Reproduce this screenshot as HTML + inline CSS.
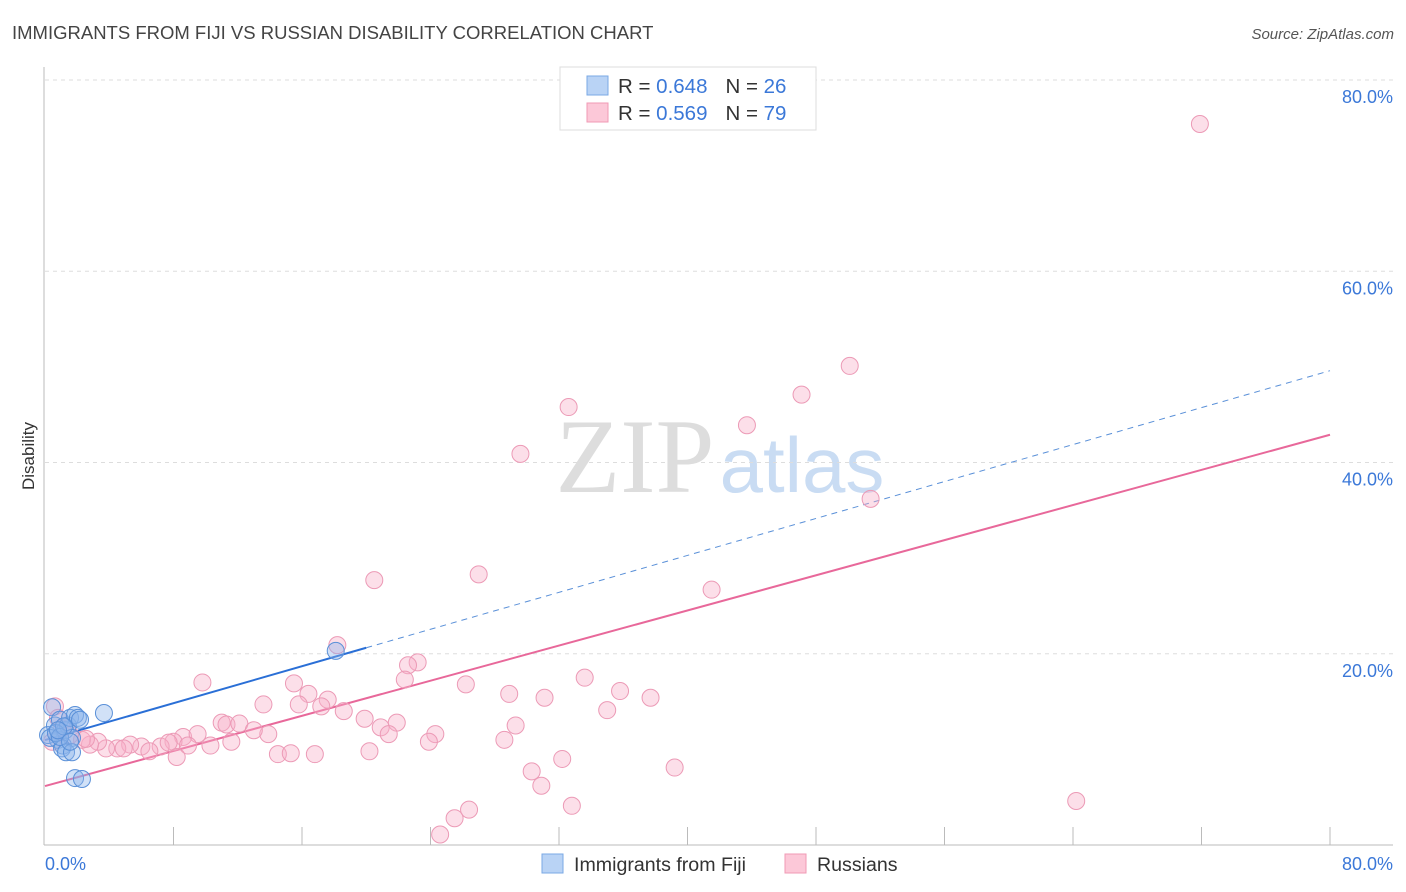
<!DOCTYPE html>
<html><head><meta charset="utf-8"><style>
body{margin:0;background:#fff;font-family:"Liberation Sans",sans-serif;}
svg{display:block}
</style></head><body>
<svg id="chart" width="1406" height="892" xmlns="http://www.w3.org/2000/svg">
<text x="12" y="39" font-size="18.5" fill="#444">IMMIGRANTS FROM FIJI VS RUSSIAN DISABILITY CORRELATION CHART</text>
<text x="1394" y="39" font-size="15" fill="#555" font-style="italic" text-anchor="end">Source: ZipAtlas.com</text>
<text x="34" y="456" font-size="17" fill="#333" text-anchor="middle" transform="rotate(-90 34 456)">Disability</text>
<g>
<text x="635" y="492" font-size="106" font-family="Liberation Serif,serif" fill="#ddd" text-anchor="middle">ZIP</text>
<text x="802" y="492" font-size="78" fill="#c9dcf3" text-anchor="middle">atlas</text>
</g>
<g id="grid"></g>
<g id="axes"></g>
<g id="lines"></g>
<g id="pts"></g>
<g>
<rect x="560" y="67" width="256" height="63" fill="#fff" stroke="#ddd"/>
<rect x="587" y="76" width="21" height="19" fill="#b9d3f5" stroke="#7aa8e5"/>
<rect x="587" y="103" width="21" height="19" fill="#fcc8d8" stroke="#f09ab5"/>
<text x="618" y="93" font-size="20.5" fill="#333">R = <tspan fill="#3b78d8">0.648</tspan><tspan dx="18">N = </tspan><tspan fill="#3b78d8">26</tspan></text>
<text x="618" y="120" font-size="20.5" fill="#333">R = <tspan fill="#3b78d8">0.569</tspan><tspan dx="18">N = </tspan><tspan fill="#3b78d8">79</tspan></text>
</g>
<g>
<rect x="542" y="854" width="21" height="19" fill="#b9d3f5" stroke="#7aa8e5"/>
<text x="574" y="871" font-size="19.6" fill="#333">Immigrants from Fiji</text>
<rect x="785" y="854" width="21" height="19" fill="#fcc8d8" stroke="#f09ab5"/>
<text x="817" y="871" font-size="19.6" fill="#333">Russians</text>
</g>
</svg>
<script>
const yTicks=[20,40,60,80];
const xTickLabels=["0.0%","80.0%"];
const fijiX=[0.19,0.44,0.62,0.81,0.93,1.12,1.25,1.43,1.56,1.68,1.87,2.05,2.18,1.06,1.31,1.68,3.67,1.87,2.30,18.1,0.31,0.68,0.93,1.18,0.81,1.56];
const fijiY=[11.5,14.4,12.5,11.0,13.1,10.4,12.0,12.5,13.3,11.2,13.6,13.3,13.1,10.1,9.7,9.7,13.8,7.0,6.9,20.3,11.2,11.7,11.3,12.4,12.0,10.8];
const rusX=[71.9,50.1,47.1,32.6,43.7,29.6,51.4,20.5,27.0,41.5,18.2,23.2,22.6,22.4,9.8,15.5,26.2,28.9,31.1,33.6,35.8,37.7,16.4,17.6,13.6,15.8,17.2,18.6,35.0,11.0,11.3,12.1,19.9,21.9,20.9,21.4,24.3,29.3,13.9,13.0,8.6,9.5,8.0,11.6,10.3,23.9,28.6,8.9,7.2,7.7,6.0,5.3,4.5,3.8,3.3,2.8,2.3,6.5,4.9,14.5,15.3,16.8,8.2,20.2,32.2,30.3,39.2,30.9,32.8,26.4,25.5,24.6,64.2,0.62,0.81,1.06,0.44,1.56,2.55];
const rusY=[75.4,50.1,47.1,45.8,43.9,40.9,36.2,27.7,28.3,26.7,20.9,19.1,18.8,17.3,17.0,16.9,16.8,15.8,15.4,17.5,16.1,15.4,15.8,15.2,14.7,14.7,14.5,14.0,14.1,12.8,12.6,12.7,13.2,12.8,12.3,11.6,11.6,12.5,11.6,12.0,11.3,11.6,10.8,10.8,10.4,10.8,11.0,10.4,10.3,10.7,10.3,10.5,10.1,10.1,10.8,10.5,11.0,9.8,10.1,9.5,9.6,9.5,9.2,9.8,9.0,7.7,8.1,6.2,4.1,3.7,2.8,1.1,4.6,14.5,13.3,12.2,10.8,11.5,11.1];
const fijiTrend=[10.97,49.6];
const rusTrend=[6.16,42.9];
const fijiSolidEnd=20;
const NS="http://www.w3.org/2000/svg";
const X=v=>45+v*(1285/80);
const Y=v=>845-v*(765/80);
function mk(t,a,p){const e=document.createElementNS(NS,t);for(const k in a)e.setAttribute(k,a[k]);p.appendChild(e);return e;}
const grid=document.getElementById('grid'),axes=document.getElementById('axes'),lines=document.getElementById('lines'),pts=document.getElementById('pts');
yTicks.forEach(v=>{
 const l=mk('line',{x1:45,x2:1393,y1:Y(v),y2:Y(v),stroke:'#ddd','stroke-dasharray':'4,4'},grid);
 
 
 const t=mk('text',{x:1393,y:Y(v)+23,'font-size':18,fill:'#3b78d8','text-anchor':'end'},axes);
 t.textContent=v.toFixed(1)+'%';
 
 
});
const ya=mk('line',{x1:44,x2:44,y1:67,y2:845,stroke:'#bbb'},axes);


const xa=mk('line',{x1:44,x2:1393,y1:845,y2:845,stroke:'#bbb'},axes);


for(let i=1;i<=10;i++){
 const tk=mk('line',{x1:X(i*8),x2:X(i*8),y1:827,y2:845,stroke:'#bbb'},axes);
 
 
}
const xl0=mk('text',{x:45,y:870,'font-size':18,fill:'#3b78d8'},axes);xl0.textContent=xTickLabels[0];


const xl1=mk('text',{x:1393,y:870,'font-size':18,fill:'#3b78d8','text-anchor':'end'},axes);xl1.textContent=xTickLabels[1];


const fy=x=>fijiTrend[0]+(fijiTrend[1]-fijiTrend[0])*x/80;
const ry=x=>rusTrend[0]+(rusTrend[1]-rusTrend[0])*x/80;
const fs=mk('line',{x1:X(0),y1:Y(fy(0)),x2:X(fijiSolidEnd),y2:Y(fy(fijiSolidEnd)),stroke:'#2a6fd6','stroke-width':2},lines);


const fd=mk('line',{x1:X(fijiSolidEnd),y1:Y(fy(fijiSolidEnd)),x2:X(80),y2:Y(fy(80)),stroke:'#5a90d8','stroke-width':1,'stroke-dasharray':'6,5'},lines);


const rl=mk('line',{x1:X(0),y1:Y(ry(0)),x2:X(80),y2:Y(ry(80)),stroke:'#e8689a','stroke-width':2},lines);


rusX.forEach((x,i)=>{
 const c=mk('circle',{cx:X(x),cy:Y(rusY[i]),r:8.5,fill:'rgba(248,175,200,0.4)',stroke:'#ec9ab6','stroke-width':1},pts);
 
 
});
fijiX.forEach((x,i)=>{
 const c=mk('circle',{cx:X(x),cy:Y(fijiY[i]),r:8.5,fill:'rgba(140,180,235,0.4)',stroke:'#5a90d8','stroke-width':1},pts);
 
 
});
</script>
</body></html>
